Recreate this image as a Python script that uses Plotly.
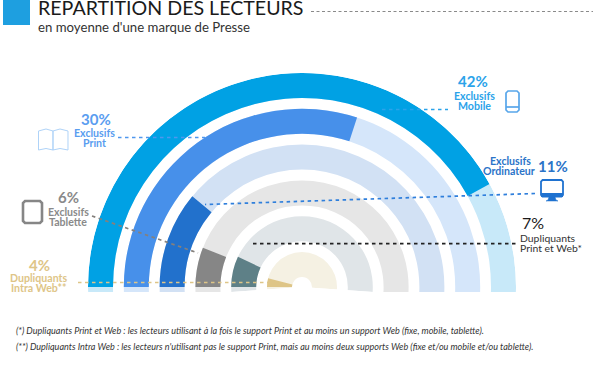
import math
import plotly.graph_objects as go

W, H = 600, 372
# Data
segments = ["Exclusifs Mobile", "Exclusifs Print", "Exclusifs Ordinateur",
            "Exclusifs Tablette", "Dupliquants Print et Web", "Dupliquants Intra Web"]
shares = [42, 30, 11, 6, 7, 4]
half_circle_share = 50

colors = ["#00A1E4", "#4790EA", "#2271CC", "#868686", "#5E8087", "#DEC587"]
pale = ["#C8E9F9", "#D5E6FA", "#D2E1F4", "#E6E6E6", "#E0E5E8", "#F5F1E3"]

CX, CY, R = 302, 287, 214
PITCH, THICK = 35.8, 25
OVER = 4  # degrees the pale tracks overshoot; masked below by a white rectangle


def px(x):
    return x / W


def py(y):
    return 1 - y / H


fig = go.Figure()
n = len(shares)
for i in range(n):
    outer = R - i * PITCH
    fig.add_trace(go.Barpolar(
        r=[THICK], base=[outer - THICK], theta=[90],
        width=[half_circle_share * 3.6 + 2 * OVER],
        marker=dict(color=pale[i], line=dict(width=0)),
        hoverinfo="skip", showlegend=False))
for i in range(n):
    outer = R - i * PITCH
    sweep = shares[i] * 3.6
    fig.add_trace(go.Barpolar(
        r=[THICK], base=[outer - THICK], theta=[180 - sweep / 2], width=[sweep],
        marker=dict(color=colors[i], line=dict(width=0)),
        name=segments[i], showlegend=False))

dom_h = R * (1 + math.sin(math.radians(OVER)))
top = CY - R

shapes = []


def line(x0, y0, x1, y1, color, width=1.7, dash="3.5px,3.5px"):
    shapes.append(dict(type="line", xref="paper", yref="paper", x0=px(x0), y0=py(y0),
                       x1=px(x1), y1=py(y1), line=dict(color=color, width=width, dash=dash)))


def rect(x0, y0, x1, y1, fill=None, color=None, width=0):
    shapes.append(dict(type="rect", xref="paper", yref="paper", x0=px(x0), y0=py(y0),
                       x1=px(x1), y1=py(y1), fillcolor=fill or "rgba(0,0,0,0)",
                       line=dict(color=color or "rgba(0,0,0,0)", width=width)))


def path(pts, color, width=1.2, fill=None, close=False):
    d = "M " + " L ".join(f"{px(x):.5f} {py(y):.5f}" for x, y in pts) + (" Z" if close else "")
    shapes.append(dict(type="path", xref="paper", yref="paper", path=d,
                       fillcolor=fill or "rgba(0,0,0,0)",
                       line=dict(color=color, width=width)))


def rrect(x0, y0, x1, y1, r, color, width, fill=None):
    pts = [(x0 + r, y0), (x1 - r, y0), (x1, y0 + r), (x1, y1 - r), (x1 - r, y1),
           (x0 + r, y1), (x0, y1 - r), (x0, y0 + r)]
    path(pts, color, width, fill, True)


# mask below the flat baseline of the tracks
rect(0, 292, W, H, fill="white")
# header
rect(3, -1, 30, 25, fill="#1E9FE0")
line(311, 11.5, 593, 11.5, "#8a8a8a", 1, "3px,2.5px")
# leader lines
line(118, 137.5, 205, 137.5, "#4f97ee")
line(382, 109.5, 448, 109.5, "#2BA3EA")
line(535, 193.5, 205, 204.5, "#2F7FDC")
line(253, 243.7, 517, 243.7, "#222222")
line(92, 216, 198, 253, "#85807c")
line(78, 282.5, 268, 282.5, "#DEC587")

# book icon
book = "#AFD3F8"
path([(38.5, 131), (46, 129), (53, 131), (53, 150), (46, 148.5), (38.5, 150)], book, 1, None, True)
path([(53, 131), (60, 129), (68, 131), (68, 150), (60, 148.5), (53, 150)], book, 1, None, True)
# phone icon
rrect(506, 91, 519, 112, 2, "#58A6EA", 1.7)
line(506, 107, 519, 107, "#58A6EA", 1.7, "solid")
# monitor icon
rrect(541, 180, 563, 196.5, 1.5, "#1F72D0", 1.8)
rect(541, 193, 563, 197, fill="#1F72D0")
path([(549, 197), (555, 197), (556, 200), (558, 201), (546, 201), (548, 200)], "#1F72D0", 0.5, "#1F72D0", True)
# tablet icon
rrect(23, 201, 42, 223, 2, "#868686", 2.6)

GREY = "#8a8a8a"
LBL = 10.6
texts = [
    ("RÉPARTITION DES LECTEURS", 35.5, 8, "left", 19.6, "#1a1a1a", "Lato"),
    ("en moyenne d'une marque de Presse", 35.5, 27, "left", 13.2, "#333333", "Lato"),
    ("<b>30%</b>", 96, 119, "center", 15, "#5A9DF0", "Lato"),
    ("<b>Exclusifs</b>", 94, 133, "center", LBL, "#5A9DF0", "Lato"),
    ("<b>Print</b>", 94, 143, "center", LBL, "#5A9DF0", "Lato"),
    ("<b>42%</b>", 473, 81, "center", 15, "#2BA3EA", "Lato"),
    ("<b>Exclusifs</b>", 474, 95.5, "center", LBL, "#2BA3EA", "Lato"),
    ("<b>Mobile</b>", 474, 105.5, "center", LBL, "#2BA3EA", "Lato"),
    ("<b>Exclusifs</b>", 510, 161, "center", LBL, "#2B74C8", "Lato"),
    ("<b>Ordinateur</b>", 509, 171, "center", LBL, "#2B74C8", "Lato"),
    ("<b>11%</b>", 553, 166, "center", 15, "#2B74C8", "Lato"),
    ("7%", 533, 222, "center", 16, "#1a1a1a", "Lato"),
    ("Dupliquants", 517.5, 237.5, "left", 10.4, "#333333", "Lato"),
    ("Print et Web*", 517.5, 247.5, "left", 10.4, "#333333", "Lato"),
    ("<b>6%</b>", 68, 197, "center", 15, GREY, "Lato"),
    ("<b>Exclusifs</b>", 68, 211.5, "center", LBL, GREY, "Lato"),
    ("<b>Tablette</b>", 68, 221.5, "center", LBL, GREY, "Lato"),
    ("<b>4%</b>", 39, 265, "center", 15, "#DEC587", "Lato"),
    ("<b>Dupliquants</b>", 39, 278, "center", LBL, "#DEC587", "Lato"),
    ("<b>Intra Web**</b>", 39, 288, "center", LBL, "#DEC587", "Lato"),
    ("<i>(*) Dupliquants Print et Web : les lecteurs utilisant à la fois le support Print et au moins un support Web (fixe, mobile, tablette).</i>",
     13.5, 330, "left", 9.05, "#333333", "Lato"),
    ("<i>(**) Dupliquants Intra Web : les lecteurs n'utilisant pas le support Print, mais au moins deux supports Web (fixe et/ou mobile et/ou tablette).</i>",
     13.5, 346, "left", 9.05, "#333333", "Lato"),
]
annotations = [dict(text=t, x=px(x), y=py(y), xref="paper", yref="paper", xanchor=a,
                    yanchor="middle", showarrow=False, align=a,
                    font=dict(size=s, color=c, family=f))
               for t, x, y, a, s, c, f in texts]

fig.update_layout(
    width=W, height=H, margin=dict(l=0, r=0, t=0, b=0),
    paper_bgcolor="white", plot_bgcolor="white", showlegend=False,
    polar=dict(
        domain=dict(x=[px(CX - R), px(CX + R)], y=[py(top + dom_h), py(top)]),
        sector=[-OVER, 180 + OVER], bgcolor="rgba(0,0,0,0)", barmode="overlay",
        radialaxis=dict(range=[0, R], visible=False),
        angularaxis=dict(visible=False),
    ),
    shapes=shapes, annotations=annotations,
)
fig.write_html("out.html", config=dict(displayModeBar=False),
               post_script="document.body.style.margin='0';document.body.style.overflow='hidden';")
